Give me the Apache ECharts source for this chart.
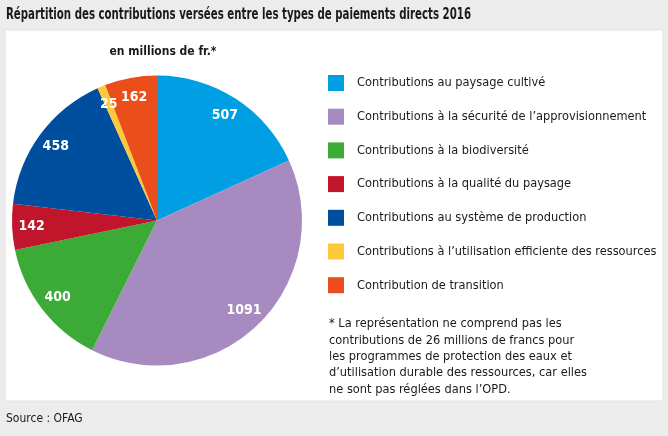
<!DOCTYPE html>
<html>
<head>
<meta charset="utf-8">
<script src="https://cdn.jsdelivr.net/npm/echarts@6/dist/echarts.min.js"></script>
<style>
html,body{margin:0;padding:0;background:#ececec;}
#c{width:668px;height:436px;}
</style>
</head>
<body>
<div id="c"></div>
<script>
const titleText = "Répartition des contributions versées entre les types de paiements directs 2016";
const subtitleText = "en millions de fr.*";
const sourceText = "Source : OFAG";
const categories = [
  "Contributions au paysage cultivé",
  "Contributions à la sécurité de l’approvisionnement",
  "Contributions à la biodiversité",
  "Contributions à la qualité du paysage",
  "Contributions au système de production",
  "Contributions à l’utilisation efficiente des ressources",
  "Contribution de transition"
];
const values = [507, 1091, 400, 142, 458, 25, 162];
const colors = ["#009fe3", "#a68ac0", "#3caa36", "#c0152a", "#004f9f", "#fdc93a", "#e94e1b"];
const footnoteLines = [
  "* La représentation ne comprend pas les",
  "contributions de 26 millions de francs pour",
  "les programmes de protection des eaux et",
  "d’utilisation durable des ressources, car elles",
  "ne sont pas réglées dans l’OPD."
];

const FONT = '"DejaVu Sans Condensed","Liberation Sans",sans-serif';
const TITLE_FONT = 'bold 15px ' + FONT;
const ctx = document.createElement('canvas').getContext('2d');
ctx.font = TITLE_FONT;
const titleScale = 465 / ctx.measureText(titleText).width;

const chart = echarts.init(document.getElementById('c'), null, {renderer: 'canvas'});
const pieData = categories.map((n, i) => ({name: n, value: values[i], itemStyle: {color: colors[i]}}));
const labelData = categories.map((n, i) => ({name: n, value: values[i]}));

chart.setOption({
  backgroundColor: '#ececec',
  animation: false,
  textStyle: {fontFamily: FONT},
  graphic: [
    {type: 'rect', z: -10, shape: {x: 5, y: 30, width: 658, height: 371}, style: {fill: '#ffffff', stroke: '#e2e2e2', lineWidth: 1}},
    {type: 'text', z: 5, x: 6, y: 15, scaleX: Math.min(1, titleScale), style: {text: titleText, x: 0, y: 0, verticalAlign: 'middle', font: TITLE_FONT, fill: '#1a1a1a'}},
    {type: 'text', z: 5, style: {text: subtitleText, x: 163, y: 52, align: 'center', verticalAlign: 'middle', font: 'bold 12px ' + FONT, fill: '#1a1a1a'}},
    {type: 'text', z: 5, style: {text: footnoteLines.join('\n'), x: 329, y: 316, lineHeight: 16.3, font: '12.7px ' + FONT, fill: '#1a1a1a'}},
    {type: 'text', z: 5, style: {text: sourceText, x: 6, y: 413, font: '12px ' + FONT, fill: '#1a1a1a'}}
  ],
  legend: {
    orient: 'vertical',
    left: 328, top: 75,
    padding: 0,
    itemWidth: 16, itemHeight: 16, itemGap: 17.7,
    icon: 'rect',
    selectedMode: false,
    data: categories,
    textStyle: {fontFamily: FONT, fontSize: 12.7, color: '#1a1a1a', padding: [0, 0, 0, 8]}
  },
  series: [
    {
      type: 'pie',
      center: [157, 220.5],
      radius: [0, 145],
      startAngle: 90,
      clockwise: true,
      silent: true,
      label: {show: false},
      labelLine: {show: false},
      itemStyle: {borderWidth: 0},
      data: pieData
    },
    {
      type: 'pie',
      center: [157, 220.5],
      radius: [100, 145],
      startAngle: 90,
      clockwise: true,
      silent: true,
      itemStyle: {color: 'rgba(0,0,0,0)', borderWidth: 0},
      label: {show: true, position: 'inside', color: '#ffffff', fontFamily: FONT, fontSize: 14, fontWeight: 'bold', formatter: '{c}'},
      labelLine: {show: false},
      data: labelData
    }
  ]
});
</script>
</body>
</html>
